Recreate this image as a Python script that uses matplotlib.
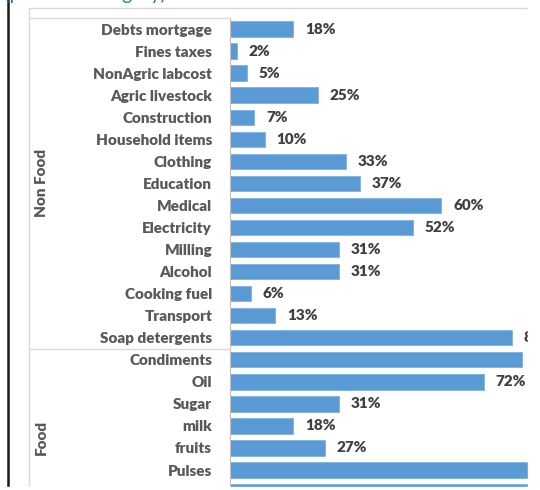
import matplotlib.pyplot as plt
from matplotlib.lines import Line2D
from matplotlib.patches import Rectangle

plt.rcParams['font.family'] = ['Lato', 'DejaVu Sans']

# share of households reporting spending, by item
non_food_items = ["Debts mortgage", "Fines taxes", "NonAgric labcost", "Agric livestock",
                  "Construction", "Household items", "Clothing", "Education", "Medical",
                  "Electricity", "Milling", "Alcohol", "Cooking fuel", "Transport",
                  "Soap detergents"]
non_food_pct = [18, 2, 5, 25, 7, 10, 33, 37, 60, 52, 31, 31, 6, 13, 80]

food_items = ["Condiments", "Oil", "Sugar", "milk", "fruits", "Pulses",
              "Vegetables", "Cereals"]
food_pct = [83, 72, 31, 18, 27, 88, 90, 95]

groups = ["Non Food", "Food"]

items = non_food_items + food_items
pct = non_food_pct + food_pct
n = len(items)

W, H = 540, 490
fig = plt.figure(figsize=(W / 100, H / 100), dpi=100)


def fx(px):
    return px / W


def fy(py):
    return 1 - py / H


# plot area geometry (pixels)
x_axis = 229.5
row_h = 22.05
top = 18
px_per_pct = 3.53
bottom = top + n * row_h

ax = fig.add_axes([fx(x_axis), fy(bottom), fx(100 * px_per_pct), (bottom - top) / H])
ax.barh(range(n), pct, height=0.7, color="#5B9BD5", edgecolor="#7FB1E0", linewidth=0.6)
ax.set_xlim(0, 100)
ax.set_ylim(n - 0.5, -0.5)
ax.set_yticks(range(n))
ax.set_yticklabels(items, fontsize=11, fontweight="heavy", color="#595959")
ax.tick_params(axis="y", length=0, pad=12.5)
ax.set_xticks([])
for s in ["top", "right", "bottom"]:
    ax.spines[s].set_visible(False)
ax.spines["left"].set_color("#BFBFBF")
ax.spines["left"].set_linewidth(0.8)

for i, v in enumerate(pct):
    ax.annotate(f"{v}%", (v, i), xytext=(8.5, 0), textcoords="offset points",
                va="center", ha="left", fontsize=11, fontweight="heavy", color="#404040")

# chart frame and category box lines
grey = "#D9D9D9"
fig.add_artist(Line2D([fx(29), fx(W)], [fy(8.5), fy(8.5)], color=grey, lw=1))
fig.add_artist(Line2D([fx(29), fx(29)], [fy(8.5), fy(H)], color=grey, lw=1))
fig.add_artist(Line2D([fx(29), fx(x_axis)], [fy(top), fy(top)], color=grey, lw=1))
sep = top + len(non_food_items) * row_h
fig.add_artist(Line2D([fx(29), fx(x_axis)], [fy(sep), fy(sep)], color=grey, lw=1))

# group labels
centers = [(top + sep) / 2, (sep + bottom) / 2]
for g, c in zip(groups, centers):
    fig.text(fx(41), fy(c), g, rotation=90, ha="center", va="center",
             fontsize=11, fontweight="heavy", color="#595959")

# heading above the chart
fig.text(fx(166), 1 + 0.5 / H, "Share of households spending (per item category)",
         ha="right", va="baseline", fontsize=14, color="#2E74B5")

# page border on the left
fig.add_artist(Line2D([fx(8), fx(8)], [fy(0), fy(486.5)], color="#1A1A1A", lw=1.8))

# white margins at the cut edges
fig.add_artist(Rectangle((fx(528), 0), 1, 1, transform=fig.transFigure,
                         color="white", zorder=10))
fig.add_artist(Rectangle((0, 0), 1, 3.5 / H, transform=fig.transFigure,
                         color="white", zorder=10))

fig.savefig("out.png", dpi=100)
